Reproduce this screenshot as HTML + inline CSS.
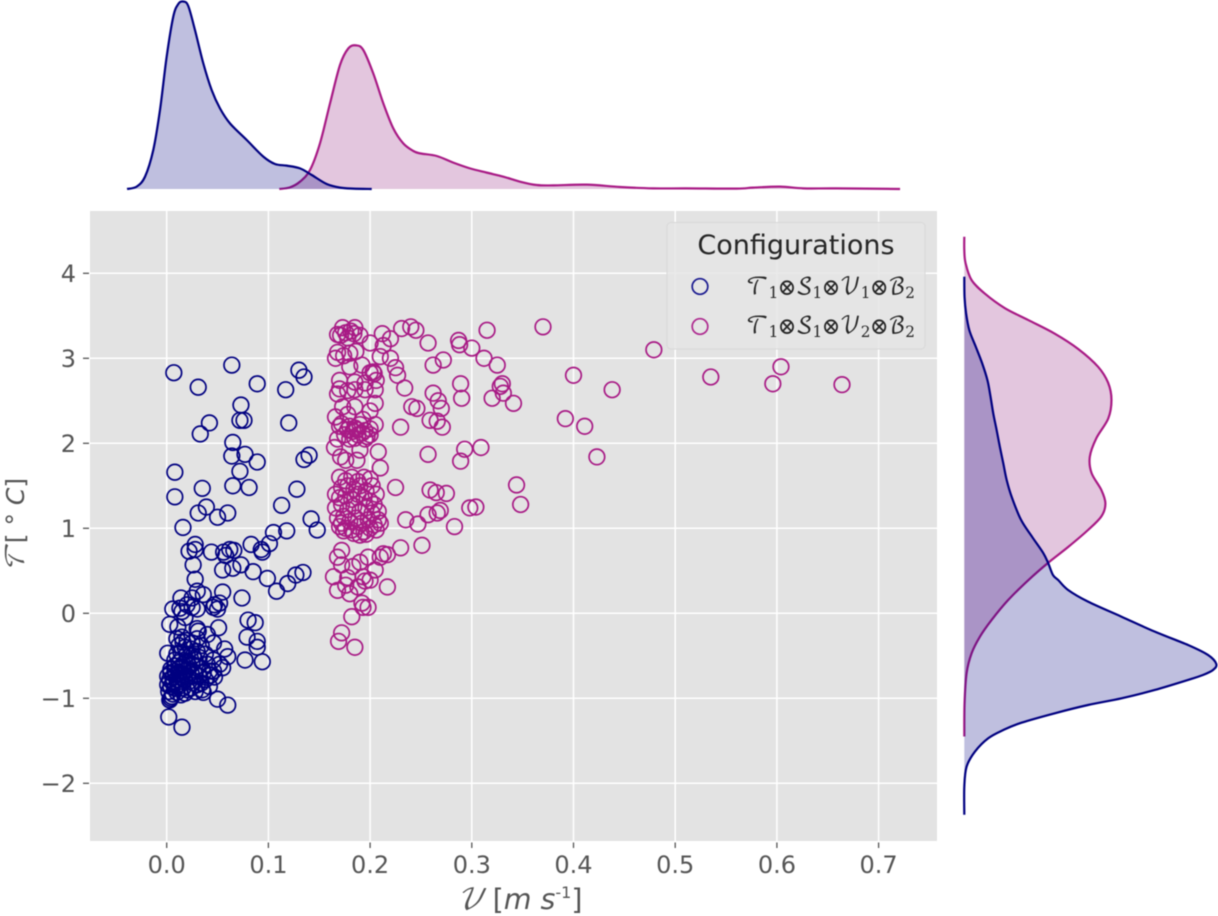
<!DOCTYPE html>
<html lang="en">
<head>
<meta charset="utf-8">
<title>Joint plot of configurations</title>
<style>
html,body{margin:0;padding:0;background:#fff;width:1218px;height:916px;overflow:hidden}
svg{display:block;filter:blur(0.45px)}
.tick{font-family:"DejaVu Sans","Liberation Sans",sans-serif;font-size:24px;fill:#555}
.title{font-family:"DejaVu Sans","Liberation Sans",sans-serif;fill:#555}
.cal{font-family:"DejaVu Math TeX Gyre","DejaVu Serif","Liberation Serif",serif}
</style>
</head>
<body>
<svg id="chart" xmlns="http://www.w3.org/2000/svg" width="1218" height="916" viewBox="0 0 1218 916">
  <rect x="90" y="211" width="847" height="630" fill="#e3e3e3"/>
  <g id="grid"></g>
  <g id="xticks"></g>
  <g id="yticks"></g>
  <g id="scatter1"></g>
  <g id="scatter2"></g>
  <g id="topKde"></g>
  <g id="rightKde"></g>

  <text class="title" font-size="28.5" x="456" y="909"><tspan class="cal" font-style="italic">𝒱</tspan> [<tspan font-style="italic">m s</tspan><tspan font-size="16" dy="-11">-1</tspan><tspan dy="11">]</tspan></text>
  <text class="title" font-size="25" transform="translate(24,572) rotate(-90)"><tspan class="cal" font-style="italic">𝒯</tspan><tspan dx="3">[ ° </tspan><tspan font-style="italic">C</tspan>]</text>

  <g>
    <rect x="667" y="222.5" width="258" height="126.5" rx="4" fill="#e5e5e5" fill-opacity="0.8" stroke="#d8d8d8" stroke-width="1"/>
    <text x="796" y="254" text-anchor="middle" font-family="'DejaVu Sans','Liberation Sans',sans-serif" font-size="27" fill="#262626">Configurations</text>
    <circle cx="700" cy="286.5" r="7.8" fill="none" stroke="#1a1a90" stroke-width="1.7"/>
    <circle cx="700" cy="326.5" r="7.8" fill="none" stroke="#ae2a8f" stroke-width="1.7"/>
    <text class="cal" x="746" y="294" font-size="23" fill="#262626" textLength="169" lengthAdjust="spacingAndGlyphs">𝒯<tspan font-size="16" dy="4">1</tspan><tspan dy="-4">⊗𝒮</tspan><tspan font-size="16" dy="4">1</tspan><tspan dy="-4">⊗𝒱</tspan><tspan font-size="16" dy="4">1</tspan><tspan dy="-4">⊗ℬ</tspan><tspan font-size="16" dy="4">2</tspan></text>
    <text class="cal" x="746" y="333" font-size="23" fill="#262626" textLength="169" lengthAdjust="spacingAndGlyphs">𝒯<tspan font-size="16" dy="4">1</tspan><tspan dy="-4">⊗𝒮</tspan><tspan font-size="16" dy="4">1</tspan><tspan dy="-4">⊗𝒱</tspan><tspan font-size="16" dy="4">2</tspan><tspan dy="-4">⊗ℬ</tspan><tspan font-size="16" dy="4">2</tspan></text>
  </g>
</svg>
<script>
// ---- axis tick data ----
const xTickValues = [0, 0.1, 0.2, 0.3, 0.4, 0.5, 0.6, 0.7];
const xTickLabels = ["0.0", "0.1", "0.2", "0.3", "0.4", "0.5", "0.6", "0.7"];
const yTickValues = [-2, -1, 0, 1, 2, 3, 4];
const yTickLabels = ["\u22122", "\u22121", "0", "1", "2", "3", "4"];

// ---- scatter series: [velocity, temperature] ----
const seriesV1Points = [
[.007,2.83],[.064,2.92],[.031,2.66],[.089,2.70],[.117,2.63],[.130,2.86],[.135,2.78],[.073,2.45],[.042,2.24],[.033,2.11],
[.072,2.27],[.076,2.27],[.120,2.24],[.065,2.01],[.064,1.85],[.077,1.87],[.089,1.78],[.135,1.81],[.140,1.86],[.008,1.66],
[.072,1.67],[.035,1.47],[.065,1.50],[.081,1.48],[.128,1.46],[.008,1.37],[.113,1.27],[.039,1.25],[.031,1.18],[.060,1.18],
[.050,1.13],[.142,1.11],[.148,.98],[.016,1.01],[.105,.95],[.118,.97],[.101,.82],[.083,.81],[.028,.81],[.093,.75],
[.094,.72],[.022,.73],[.028,.75],[.044,.72],[.056,.72],[.062,.75],[.066,.74],[.058,.68],[.026,.57],[.028,.40],
[.055,.51],[.065,.53],[.073,.57],[.085,.49],[.099,.41],[.127,.45],[.134,.48],[.119,.35],[.108,.26],[.030,.26],
[.036,.22],[.055,.25],[.074,.18],[.014,.18],[.006,.05],[.013,.06],[.025,.18],[.025,.07],[.047,.10],[.052,.12],
[.046,.07],[.050,.05],[.003,-.13],[.011,-.16],[.031,-.21],[.051,-.17],[.080,-.08],[.087,-.11],[.079,-.28],[.089,-.33],
[.089,-.40],[.046,-.35],[.057,-.42],[.060,-.51],[.077,-.55],[.094,-.57],[.001,-.47],[.055,-.64],[.046,-.55],[.043,-.73],
[.047,-.75],[.036,-.93],[.050,-1.01],[.060,-1.08],[.002,-1.22],[.015,-1.34],[.004,-1.00],[.003,-1.02],[.015,.02],[.020,.10],
[.030,.05],[.018,-.05],[.010,-.30],[.015,-.28],[.020,-.32],[.025,-.35],[.030,-.30],[.012,-.38],[.018,-.40],[.024,-.42],
[.030,-.45],[.034,-.38],[.014,-.46],[.020,-.48],[.026,-.50],[.032,-.52],[.038,-.48],[.008,-.55],[.012,-.58],[.016,-.60],
[.020,-.56],[.025,-.60],[.030,-.62],[.035,-.65],[.040,-.60],[.004,-.66],[.008,-.68],[.012,-.70],[.016,-.72],[.020,-.66],
[.024,-.70],[.028,-.72],[.032,-.74],[.036,-.70],[.042,-.68],[.001,-.74],[.003,-.78],[.006,-.76],[.010,-.78],[.014,-.80],
[.018,-.78],[.022,-.80],[.026,-.82],[.030,-.84],[.034,-.82],[.001,-.84],[.004,-.86],[.008,-.88],[.012,-.86],[.016,-.88],
[.020,-.90],[.024,-.88],[.028,-.92],[.002,-.92],[.006,-.95],[.010,-.93],[.014,-.96],[.005,-.98],[.018,-.94],[.038,-.78],
[.046,-.68],[.052,-.60],[.042,-.86],[.035,-.90],[.008,-.62],[.004,-.70],[.006,-.82],[.022,-.62],[.028,-.55],[.010,-.48],
[.016,-.34],[.040,-.25],[.030,-.18],[.009,-.72],[.013,-.64],[.017,-.68],[.021,-.74],[.011,-.84],[.015,-.76],[.007,-.80]
];
const seriesV2Points = [
[.370,3.37],[.479,3.10],[.400,2.80],[.438,2.63],[.535,2.78],[.596,2.70],[.604,2.90],[.664,2.69],[.392,2.29],[.411,2.20],
[.423,1.84],[.344,1.51],[.348,1.28],[.341,2.47],[.328,2.67],[.330,2.70],[.331,2.59],[.320,2.53],[.325,2.92],[.315,3.33],
[.312,3.00],[.300,3.12],[.287,3.21],[.288,3.16],[.289,2.70],[.290,2.53],[.270,2.41],[.267,2.50],[.262,2.59],[.266,2.26],
[.259,2.27],[.271,2.19],[.257,3.18],[.262,2.92],[.272,2.98],[.234,2.65],[.241,2.43],[.246,2.41],[.230,2.19],[.227,2.80],
[.225,2.89],[.220,3.00],[.210,3.02],[.231,3.35],[.240,3.37],[.245,3.33],[.220,3.23],[.212,3.29],[.213,3.15],[.257,1.87],
[.293,1.93],[.309,1.95],[.289,1.79],[.259,1.45],[.265,1.42],[.275,1.41],[.298,1.24],[.304,1.25],[.283,1.02],[.266,1.18],
[.269,1.21],[.257,1.16],[.247,1.05],[.235,1.10],[.225,1.48],[.210,1.71],[.208,1.90],[.251,.80],[.230,.77],
// upper column
[.173,3.36],[.185,3.36],[.171,3.27],[.176,3.30],[.181,3.32],[.190,3.27],[.200,3.18],[.168,3.28],[.178,3.24],[.184,3.29],
[.168,3.07],[.166,3.00],[.180,3.06],[.180,2.90],[.192,2.92],[.200,2.83],[.204,2.82],[.203,2.84],[.174,3.03],[.186,3.08],
[.170,2.74],[.170,2.64],[.168,2.58],[.185,2.72],[.185,2.63],[.195,2.71],[.195,2.63],[.206,2.74],[.205,2.63],[.178,2.62],
[.173,2.43],[.185,2.43],[.205,2.47],[.200,2.38],[.166,2.31],[.172,2.23],[.180,2.20],[.187,2.16],[.190,2.22],[.195,2.15],
[.200,2.10],[.175,2.10],[.180,2.05],[.185,2.06],[.170,2.20],[.195,2.05],[.200,2.17],[.193,2.28],[.168,2.05],[.178,2.34],
[.183,2.14],[.188,2.10],[.192,2.12],[.197,2.08],[.185,2.18],[.178,2.16],[.205,2.22],
// mid column
[.176,1.80],[.187,1.80],[.190,1.92],[.171,1.84],[.165,1.95],
[.170,1.60],[.176,1.56],[.182,1.60],[.188,1.55],[.194,1.60],[.200,1.58],[.172,1.48],[.178,1.50],[.184,1.46],[.190,1.50],
[.196,1.44],[.202,1.50],[.166,1.40],[.170,1.36],[.176,1.38],[.182,1.34],[.188,1.40],[.194,1.36],[.200,1.32],[.206,1.40],
[.166,1.24],[.172,1.28],[.178,1.22],[.184,1.26],[.190,1.20],[.196,1.24],[.202,1.18],[.208,1.20],[.168,1.12],[.174,1.14],
[.180,1.08],[.186,1.12],[.192,1.06],[.198,1.10],[.204,1.04],[.210,1.06],[.170,1.02],[.176,1.00],[.182,.98],[.188,1.02],
[.194,.96],[.200,1.00],[.206,.98],[.172,1.06],[.184,.94],[.190,.92],[.196,.93],[.208,1.10],[.204,1.28],[.174,.97],
// lower column
[.213,.70],[.217,.69],[.210,.66],[.205,.51],[.198,.66],[.190,.60],[.172,.74],[.168,.66],[.172,.57],[.164,.43],[.178,.42],
[.168,.27],[.180,.23],[.188,.31],[.193,.43],[.200,.39],[.217,.31],[.198,.07],[.193,.07],[.192,.12],[.182,-.04],
[.172,-.23],[.169,-.33],[.185,-.40],[.183,.55],[.195,.38],[.176,.33]
];

// ---- marginal density data ----
const topV1Grid = [-.039,-.0295,-.0213,-.0132,-.0066,0,.0065,.0114,.0163,.0212,.0278,.036,.0442,.0524,.0622,.0787,.095,.1065,.118,.1311,.1426,.1573,.1704,.1835,.2016];
const topV1Density = [0,.19,.99,3.12,6.32,10.6,13.8,14.8,15,14.64,12.72,10.05,7.92,6.45,5.25,3.92,2.59,2,1.87,1.65,1.12,.4,.11,.03,0];
const topV2Grid = [.1107,.1212,.1311,.1409,.1507,.1606,.1704,.1786,.1861,.1933,.2031,.213,.2228,.2326,.2425,.2491,.2655,.2818,.2982,.3147,.331,.3474,.3638,.3801,.413,.4457,.4785,.5113,.5605,.5768,.6031,.626,.6588,.7211];
const topV2Density = [0,.13,.59,1.52,3.65,6.85,9.92,11.25,11.49,11.12,9.25,6.85,4.85,3.65,3.04,2.85,2.64,2.11,1.65,1.31,.99,.59,.32,.29,.35,.16,.05,.05,.03,.11,.19,.05,.05,0];
const rightV1Grid = [3.96,3.72,3.53,3.33,3.14,2.94,2.74,2.55,2.35,2.16,1.96,1.76,1.57,1.37,1.10,.90,.71,.59,.45,.39,.274,.137,-.04,-.216,-.373,-.49,-.596,-.667,-.726,-.784,-.902,-1,-1.079,-1.176,-1.287,-1.373,-1.47,-1.628,-1.805,-2.04,-2.37];
const rightV1Density = [0,.001,.007,.02,.045,.071,.092,.104,.115,.128,.141,.155,.168,.188,.225,.269,.313,.333,.352,.373,.412,.491,.624,.756,.888,.967,1,.987,.947,.888,.756,.624,.491,.359,.227,.155,.095,.042,.009,0,0];
const rightV2Grid = [4.43,4.27,4.12,3.92,3.76,3.59,3.45,3.29,3.11,2.9,2.71,2.51,2.29,2.06,1.84,1.65,1.45,1.29,1.14,.98,.78,.595,.39,.156,-.08,-.275,-.47,-.706,-1.06,-1.45];
const rightV2Density = [0,0,.005,.029,.082,.161,.254,.359,.452,.531,.571,.584,.571,.524,.498,.505,.544,.56,.544,.491,.412,.333,.254,.174,.108,.062,.029,.009,.001,0];

// ---- axis functions ----
function xScale(v){return 166.7 + 1017 * v;}
function yScale(t){return 613.3 - 85 * t;}
function topDensityScale(d){return 189 - 12.5 * d;}
function rightDensityScale(d){return 964.3 + 252 * d;}

const NS = "http://www.w3.org/2000/svg";
const colorV1 = "#000080";
const colorV2 = "#a81a85";

function smoothPath(pts){
  let s = "M" + pts[0][0].toFixed(2) + " " + pts[0][1].toFixed(2);
  for(let i = 0; i < pts.length - 1; i++){
    const p0 = pts[Math.max(0, i - 1)], p1 = pts[i], p2 = pts[i + 1], p3 = pts[Math.min(pts.length - 1, i + 2)];
    const c1x = p1[0] + (p2[0] - p0[0]) / 6, c1y = p1[1] + (p2[1] - p0[1]) / 6;
    const c2x = p2[0] - (p3[0] - p1[0]) / 6, c2y = p2[1] - (p3[1] - p1[1]) / 6;
    s += "C" + c1x.toFixed(2) + " " + c1y.toFixed(2) + " " + c2x.toFixed(2) + " " + c2y.toFixed(2) + " " + p2[0].toFixed(2) + " " + p2[1].toFixed(2);
  }
  return s;
}

// grid and ticks
const grid = document.getElementById("grid");
const xticks = document.getElementById("xticks");
const yticks = document.getElementById("yticks");
xTickValues.forEach(function(v, i){
  const gl = document.createElementNS(NS, "line");
  
  
  gl.setAttribute("x1", xScale(v)); gl.setAttribute("x2", xScale(v));
  gl.setAttribute("y1", 211); gl.setAttribute("y2", 841);
  gl.setAttribute("stroke", "#fff"); gl.setAttribute("stroke-width", "1.5");
  grid.appendChild(gl);
  const tm = document.createElementNS(NS, "line");
  
  
  tm.setAttribute("x1", xScale(v)); tm.setAttribute("x2", xScale(v));
  tm.setAttribute("y1", 842.5); tm.setAttribute("y2", 848);
  tm.setAttribute("stroke", "#555"); tm.setAttribute("stroke-width", "1.3");
  xticks.appendChild(tm);
  const tl = document.createElementNS(NS, "text");
  
  
  tl.setAttribute("class", "tick");
  tl.setAttribute("x", xScale(v)); tl.setAttribute("y", 873);
  tl.setAttribute("text-anchor", "middle");
  tl.textContent = xTickLabels[i];
  xticks.appendChild(tl);
});
yTickValues.forEach(function(t, i){
  const gl = document.createElementNS(NS, "line");
  
  
  gl.setAttribute("x1", 90); gl.setAttribute("x2", 937);
  gl.setAttribute("y1", yScale(t)); gl.setAttribute("y2", yScale(t));
  gl.setAttribute("stroke", "#fff"); gl.setAttribute("stroke-width", "1.5");
  grid.appendChild(gl);
  const tm = document.createElementNS(NS, "line");
  
  
  tm.setAttribute("x1", 83); tm.setAttribute("x2", 89);
  tm.setAttribute("y1", yScale(t)); tm.setAttribute("y2", yScale(t));
  tm.setAttribute("stroke", "#555"); tm.setAttribute("stroke-width", "1.3");
  yticks.appendChild(tm);
  const tl = document.createElementNS(NS, "text");
  
  
  tl.setAttribute("class", "tick");
  tl.setAttribute("x", 76); tl.setAttribute("y", yScale(t) + 8.7);
  tl.setAttribute("text-anchor", "end");
  tl.textContent = yTickLabels[i];
  yticks.appendChild(tl);
});

// scatter points
seriesV1Points.forEach(function(p){
  const c = document.createElementNS(NS, "circle");
  
  
  c.setAttribute("cx", xScale(p[0])); c.setAttribute("cy", yScale(p[1]));
  c.setAttribute("r", 7.8); c.setAttribute("fill", "none");
  c.setAttribute("stroke", colorV1); c.setAttribute("stroke-width", 1.7);
  document.getElementById("scatter1").appendChild(c);
});
seriesV2Points.forEach(function(p){
  const c = document.createElementNS(NS, "circle");
  
  
  c.setAttribute("cx", xScale(p[0])); c.setAttribute("cy", yScale(p[1]));
  c.setAttribute("r", 7.8); c.setAttribute("fill", "none");
  c.setAttribute("stroke", colorV2); c.setAttribute("stroke-width", 1.7);
  document.getElementById("scatter2").appendChild(c);
});

// top marginal
function drawTop(grid_, dens, color, fill, name){
  const pts = grid_.map(function(v, i){return [xScale(v), topDensityScale(dens[i])];});
  const line = smoothPath(pts);
  const area = document.createElementNS(NS, "path");
  
  
  area.setAttribute("d", line + "L" + pts[pts.length-1][0] + " " + topDensityScale(0) + "L" + pts[0][0] + " " + topDensityScale(0) + "Z");
  area.setAttribute("fill", fill); area.setAttribute("fill-opacity", "0.25");
  document.getElementById("topKde").appendChild(area);
  const l = document.createElementNS(NS, "path");
  
  
  l.setAttribute("d", line); l.setAttribute("fill", "none");
  l.setAttribute("stroke", color); l.setAttribute("stroke-width", "2.2");
  document.getElementById("topKde").appendChild(l);
}
// right marginal
function drawRight(grid_, dens, color, fill, name){
  const pts = grid_.map(function(t, i){return [rightDensityScale(dens[i]), yScale(t)];});
  const line = smoothPath(pts);
  const area = document.createElementNS(NS, "path");
  
  
  area.setAttribute("d", line + "L" + rightDensityScale(0) + " " + pts[pts.length-1][1] + "L" + rightDensityScale(0) + " " + pts[0][1] + "Z");
  area.setAttribute("fill", fill); area.setAttribute("fill-opacity", "0.25");
  document.getElementById("rightKde").appendChild(area);
  const l = document.createElementNS(NS, "path");
  
  
  l.setAttribute("d", line); l.setAttribute("fill", "none");
  l.setAttribute("stroke", color); l.setAttribute("stroke-width", "2.2");
  document.getElementById("rightKde").appendChild(l);
}
drawTop(topV2Grid, topV2Density, colorV2, "#8f1a7a", "top-density-v2");
drawTop(topV1Grid, topV1Density, colorV1, "#000080", "top-density-v1");
drawRight(rightV2Grid, rightV2Density, colorV2, "#8f1a7a", "right-density-v2");
drawRight(rightV1Grid, rightV1Density, colorV1, "#000080", "right-density-v1");
</script>
</body>
</html>
